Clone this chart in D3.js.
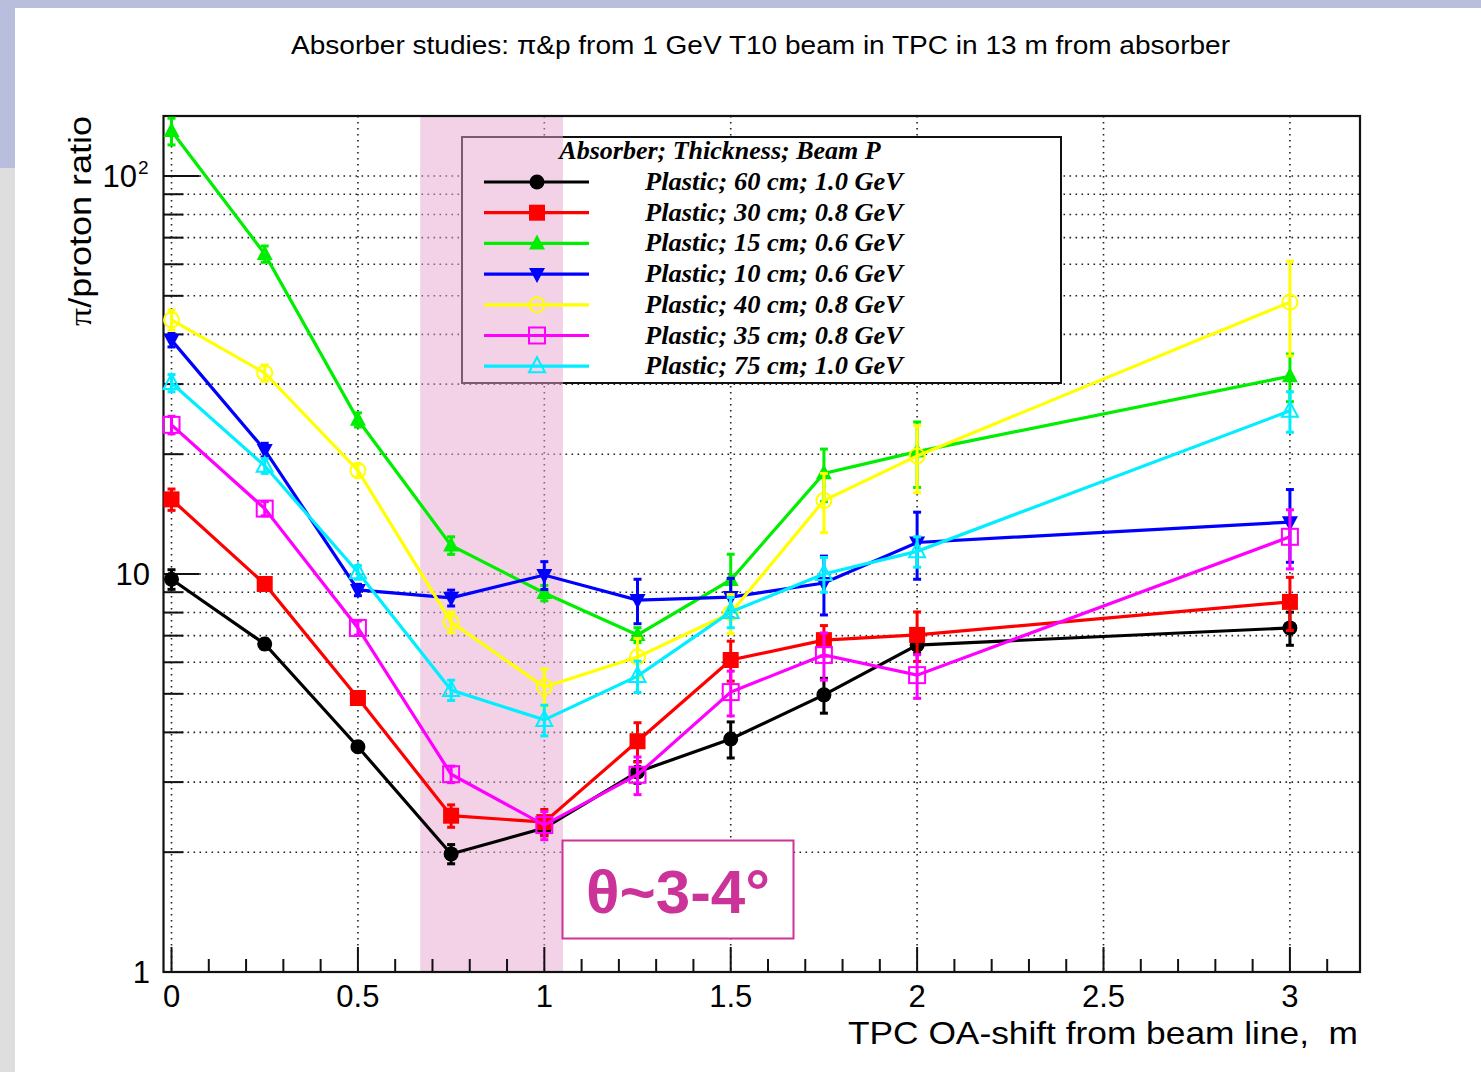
<!DOCTYPE html>
<html lang="en">
<head>
<meta charset="UTF-8">
<title>Absorber studies</title>
<script src="https://d3js.org/d3.v7.min.js"></script>
<style>
  body { margin: 0; background: #fff; }
  .sans { font-family: "Liberation Sans", Arial, sans-serif; fill: #000; }
  .serif { font-family: "Liberation Serif", "Times New Roman", serif; fill: #000; }
</style>
</head>
<body>
<script>
// x positions (TPC OA-shift, m)
const shifts = [0, 0.25, 0.5, 0.75, 1.0, 1.25, 1.5, 1.75, 2.0, 3.0];

const seriesNames = [
  'Plastic; 60 cm; 1.0 GeV',
  'Plastic; 30 cm; 0.8 GeV',
  'Plastic; 15 cm; 0.6 GeV',
  'Plastic; 10 cm; 0.6 GeV',
  'Plastic; 40 cm; 0.8 GeV',
  'Plastic; 35 cm; 0.8 GeV',
  'Plastic; 75 cm; 1.0 GeV'
];
const seriesColors = ['#000000', '#ff0000', '#00ee00', '#0000ff', '#ffff00', '#ff00ff', '#00eeff'];
const seriesMarkers = ['circle', 'square', 'triUp', 'triDown', 'openCircle', 'openSquare', 'openTriUp'];

// pi/proton ratio values
const vPlastic60 = [9.7, 6.67, 3.68, 1.98, 2.30, 3.18, 3.85, 4.97, 6.63, 7.32];
const vPlastic30 = [15.4, 9.44, 4.88, 2.47, 2.38, 3.80, 6.08, 6.82, 7.03, 8.51];
const vPlastic15 = [129.7, 63.7, 24.4, 11.8, 8.96, 7.03, 9.66, 17.9, 20.3, 31.4];
const vPlastic10 = [38.7, 20.5, 9.12, 8.71, 9.94, 8.60, 8.75, 9.49, 12.0, 13.5];
const vPlastic40 = [43.5, 32.0, 18.2, 7.57, 5.20, 6.19, 7.98, 15.3, 19.8, 48.2];
const vPlastic35 = [23.7, 14.6, 7.32, 3.14, 2.34, 3.13, 5.05, 6.26, 5.57, 12.4];
const vPlastic75 = [30.2, 18.7, 10.1, 5.11, 4.30, 5.54, 8.03, 10.0, 11.4, 25.7];

// symmetric errors
const ePlastic60 = [0.55, 0.2, 0.1, 0.11, 0.1, 0.2, 0.4, 0.5, 0.3, 0.7];
const ePlastic30 = [0.95, 0.3, 0.15, 0.16, 0.18, 0.43, 0.7, 0.6, 1.0, 1.3];
const ePlastic15 = [10, 3, 1, 0.6, 0.4, 0.3, 1.55, 2.7, 3.8, 4.3];
const ePlastic10 = [1.5, 0.8, 0.3, 0.4, 0.8, 1.1, 1.0, 1.6, 2.3, 2.8];
const ePlastic40 = [2.5, 1.5, 0.7, 0.45, 0.57, 0.7, 0.9, 2.6, 3.8, 12.9];
const ePlastic35 = [1.2, 0.6, 0.3, 0.15, 0.19, 0.34, 0.65, 0.85, 0.7, 2.1];
const ePlastic75 = [1.5, 0.8, 0.4, 0.3, 0.38, 0.5, 0.7, 1.0, 1.0, 3.0];

const seriesValues = [vPlastic60, vPlastic30, vPlastic15, vPlastic10, vPlastic40, vPlastic35, vPlastic75];
const seriesErrors = [ePlastic60, ePlastic30, ePlastic15, ePlastic10, ePlastic40, ePlastic35, ePlastic75];

const xTicks = [0, 0.5, 1, 1.5, 2, 2.5, 3];
const xTickLabels = ['0', '0.5', '1', '1.5', '2', '2.5', '3'];
const bandRange = [0.667, 1.05];

const W = 1481, H = 1072;
const frame = { left: 163.5, right: 1360, top: 116, bottom: 972 };

const svg = d3.select('body').append('svg').attr('width', W).attr('height', H);

// slide background
svg.append('rect').attr('width', W).attr('height', H).attr('fill', '#fff');
svg.append('rect').attr('x', 0).attr('y', 0).attr('width', W).attr('height', 8).attr('fill', '#b8bedc');
svg.append('rect').attr('x', 0).attr('y', 8).attr('width', 15).attr('height', 160).attr('fill', '#b8bedc');
svg.append('rect').attr('x', 0).attr('y', 168).attr('width', 15).attr('height', H - 168).attr('fill', '#dedede');

const x = d3.scaleLinear().domain([-0.0215, 3.188]).range([frame.left, frame.right]);
const y = d3.scaleLog().domain([1, 141.5]).range([frame.bottom, frame.top]);

// title
svg.append('text').attr('class', 'sans')
  .attr('x', 291).attr('y', 54)
  .attr('font-size', 26.5).attr('textLength', 939).attr('lengthAdjust', 'spacingAndGlyphs')
  .text('Absorber studies: \u03c0&p from 1 GeV T10 beam in TPC in 13 m from absorber');

// grid
const yGrid = [];
[1, 10, 100].forEach(dec => { for (let k = 1; k <= 9; k++) if (dec * k <= 141.5) yGrid.push(dec * k); });
const grid = svg.append('g').attr('stroke', '#222').attr('stroke-width', 1.6).attr('stroke-dasharray', '1.6 4.4');
grid.selectAll('line.h').data(yGrid.filter(v => v > 1)).join('line')
  .attr('x1', frame.left).attr('x2', frame.right)
  .attr('y1', d => y(d)).attr('y2', d => y(d));
grid.selectAll('line.v').data(xTicks).join('line')
  .attr('y1', frame.top).attr('y2', frame.bottom)
  .attr('x1', d => x(d)).attr('x2', d => x(d));

// legend box (white fill hides grid)
const lg = { x: 462, y: 137, w: 599, h: 246 };
svg.append('rect').attr('x', lg.x).attr('y', lg.y).attr('width', lg.w).attr('height', lg.h)
  .attr('fill', '#fff').attr('stroke', '#111').attr('stroke-width', 2);

// highlighted band
svg.append('rect')
  .attr('x', x(bandRange[0])).attr('y', frame.top)
  .attr('width', x(bandRange[1]) - x(bandRange[0])).attr('height', frame.bottom - frame.top)
  .attr('fill', '#e8a6d0').attr('opacity', 0.5);

// axes ticks
const axes = svg.append('g').attr('stroke', '#111').attr('stroke-width', 2).attr('fill', 'none');
const xMinor = d3.range(0, 32).map(i => i / 10);
axes.selectAll('line.xt').data(xMinor).join('line')
  .attr('x1', d => x(d)).attr('x2', d => x(d))
  .attr('y1', frame.bottom)
  .attr('y2', (d, i) => frame.bottom - (i % 5 === 0 ? 25 : 13));
axes.selectAll('line.yt').data(yGrid).join('line')
  .attr('y1', d => y(d)).attr('y2', d => y(d))
  .attr('x1', frame.left)
  .attr('x2', d => frame.left + ([1, 10, 100].includes(d) ? 36 : 20));
axes.append('rect').attr('x', frame.left).attr('y', frame.top)
  .attr('width', frame.right - frame.left).attr('height', frame.bottom - frame.top)
  .attr('stroke-width', 2.2);

// x tick labels
svg.selectAll('text.xl').data(xTicks).join('text').attr('class', 'sans')
  .attr('x', d => x(d)).attr('y', 1007).attr('text-anchor', 'middle')
  .attr('font-size', 31).text((d, i) => xTickLabels[i]);

// y tick labels
const yl = svg.append('g').attr('class', 'sans').attr('font-size', 31);
yl.append('text').attr('x', 150).attr('y', 983).attr('text-anchor', 'end').text('1');
yl.append('text').attr('x', 150).attr('y', y(10) + 11).attr('text-anchor', 'end').text('10');
yl.append('text').attr('x', 137).attr('y', y(100) + 11).attr('text-anchor', 'end').text('10');
yl.append('text').attr('x', 138).attr('y', y(100) - 2).attr('font-size', 19).text('2');

// axis titles
svg.append('text').attr('class', 'sans')
  .attr('x', 848).attr('y', 1044)
  .attr('font-size', 32).attr('textLength', 510).attr('lengthAdjust', 'spacingAndGlyphs')
  .style('white-space', 'pre')
  .text('TPC OA-shift from beam line,  m');
const yt = svg.append('text').attr('class', 'sans')
  .attr('transform', `translate(91, ${frame.top + 210}) rotate(-90)`)
  .attr('font-size', 32).attr('textLength', 210).attr('lengthAdjust', 'spacingAndGlyphs');
yt.append('tspan').attr('font-family', '"Liberation Serif", serif').text('\u03c0');
yt.append('tspan').text('/proton ratio');

// marker drawing
function drawMarker(g, type, color, cx, cy) {
  const s = 8;
  const open = type.startsWith('open');
  const fill = open ? 'none' : color;
  const sw = open ? 2 : 0;
  if (type === 'circle' || type === 'openCircle') {
    g.append('circle').attr('cx', cx).attr('cy', cy).attr('r', 7.5)
      .attr('fill', fill).attr('stroke', color).attr('stroke-width', sw);
  } else if (type === 'square' || type === 'openSquare') {
    g.append('rect').attr('x', cx - s).attr('y', cy - s).attr('width', 2 * s).attr('height', 2 * s)
      .attr('fill', fill).attr('stroke', color).attr('stroke-width', sw);
  } else if (type === 'triUp' || type === 'openTriUp') {
    g.append('path').attr('d', `M${cx},${cy - 9}L${cx + 8},${cy + 6}L${cx - 8},${cy + 6}Z`)
      .attr('fill', fill).attr('stroke', color).attr('stroke-width', sw);
  } else if (type === 'triDown') {
    g.append('path').attr('d', `M${cx},${cy + 9}L${cx + 8},${cy - 6}L${cx - 8},${cy - 6}Z`)
      .attr('fill', fill).attr('stroke', color).attr('stroke-width', sw);
  }
}

// series
const line = d3.line().x(d => x(d[0])).y(d => y(d[1]));
seriesValues.forEach((vals, si) => {
  const color = seriesColors[si];
  const pts = shifts.map((s, i) => [s, vals[i], seriesErrors[si][i]]);
  const g = svg.append('g');
  g.append('path').datum(pts).attr('d', line)
    .attr('fill', 'none').attr('stroke', color).attr('stroke-width', 3.2);
  const eb = g.append('g').attr('stroke', color).attr('stroke-width', 3);
  pts.forEach(p => {
    const cx = x(p[0]), y1 = y(p[1] + p[2]), y2 = y(Math.max(p[1] - p[2], 1.01));
    eb.append('line').attr('x1', cx).attr('x2', cx).attr('y1', y1).attr('y2', y2);
    eb.append('line').attr('x1', cx - 4).attr('x2', cx + 4).attr('y1', y1).attr('y2', y1);
    eb.append('line').attr('x1', cx - 4).attr('x2', cx + 4).attr('y1', y2).attr('y2', y2);
  });
  pts.forEach(p => drawMarker(g, seriesMarkers[si], color, x(p[0]), y(p[1])));
});

// legend content
svg.append('text').attr('class', 'serif')
  .attr('x', 720).attr('y', 159).attr('text-anchor', 'middle')
  .attr('font-size', 26).attr('font-weight', 'bold').attr('font-style', 'italic')
  .text('Absorber; Thickness; Beam P');
seriesNames.forEach((name, i) => {
  const ry = 182 + i * 30.7;
  const g = svg.append('g');
  g.append('line').attr('x1', 484).attr('x2', 589).attr('y1', ry).attr('y2', ry)
    .attr('stroke', seriesColors[i]).attr('stroke-width', 3.2);
  drawMarker(g, seriesMarkers[i], seriesColors[i], 537, ry);
  g.append('text').attr('class', 'serif')
    .attr('x', 645).attr('y', ry + 8)
    .attr('font-size', 26).attr('font-weight', 'bold').attr('font-style', 'italic')
    .attr('textLength', 258).attr('lengthAdjust', 'spacingAndGlyphs')
    .text(name);
});

// annotation
svg.append('rect').attr('x', 562.5).attr('y', 840.5).attr('width', 231).attr('height', 98)
  .attr('fill', '#fff').attr('stroke', '#cc3399').attr('stroke-width', 2);
svg.append('text').attr('class', 'sans')
  .attr('x', 678).attr('y', 913).attr('text-anchor', 'middle')
  .attr('font-size', 62).attr('font-weight', 'bold').style('fill', '#cc3399')
  .text('\u03b8~3-4\u00b0');
</script>
</body>
</html>
